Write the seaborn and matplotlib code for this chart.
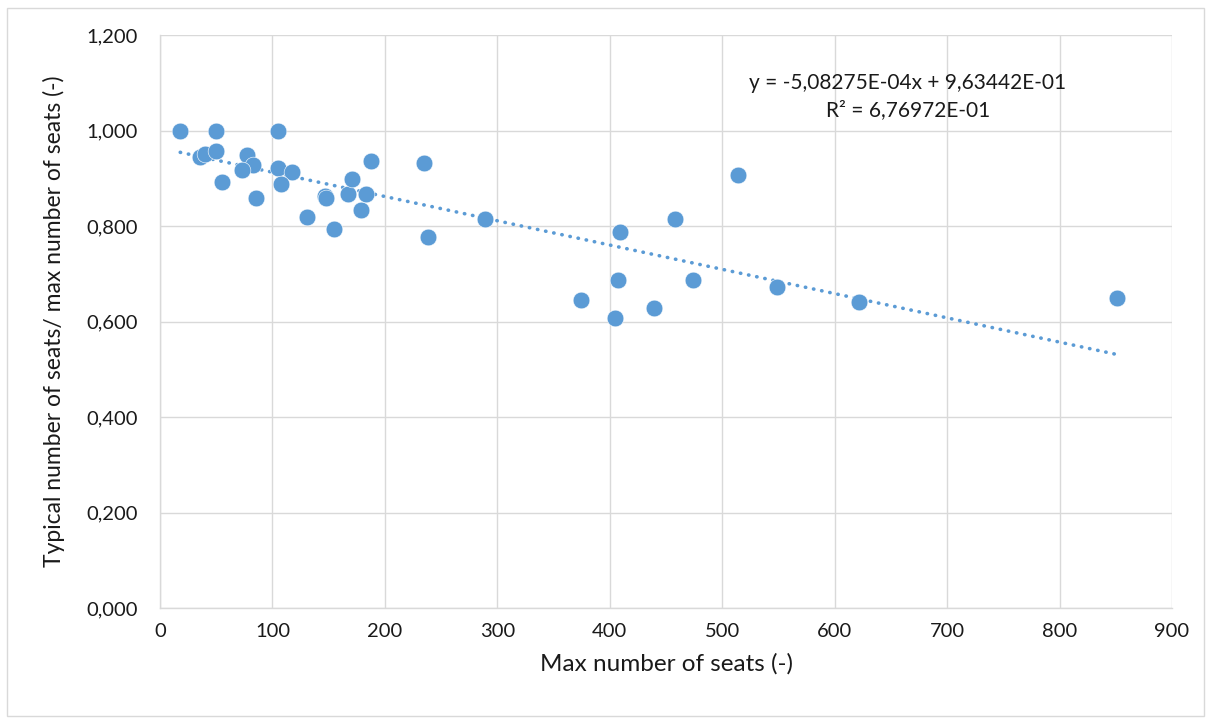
import matplotlib
matplotlib.use("Agg")
import matplotlib.pyplot as plt
import matplotlib.ticker as mticker
from matplotlib.patches import Rectangle
import numpy as np
import pandas as pd
import seaborn as sns

# Data
max_seats = [18, 50, 105, 36, 40, 50, 77, 83, 73, 55, 85, 105, 117, 108,
             131, 147, 148, 155, 167, 171, 179, 183, 188, 235, 238, 289,
             374, 409, 407, 405, 439, 458, 474, 514, 549, 622, 851]
ratio = [1.000, 1.000, 1.000, 0.944, 0.950, 0.958, 0.948, 0.927, 0.918, 0.892,
         0.859, 0.922, 0.914, 0.888, 0.818, 0.862, 0.858, 0.794, 0.868, 0.899,
         0.833, 0.868, 0.936, 0.931, 0.778, 0.815, 0.644, 0.787, 0.686, 0.608,
         0.628, 0.814, 0.686, 0.906, 0.672, 0.640, 0.650]
slope = -5.08275e-04
intercept = 9.63442e-01
r_squared = 6.76972e-01
x_ticks = [0, 100, 200, 300, 400, 500, 600, 700, 800, 900]
y_ticks = [0.0, 0.2, 0.4, 0.6, 0.8, 1.0, 1.2]

df = pd.DataFrame({"x": max_seats, "y": ratio})

sns.set_theme(style="white")
plt.rcParams['font.family'] = ['Lato', 'DejaVu Sans']

blue = "#5B9BD5"
grid_c = "#D9D9D9"
text_c = "#1a1a1a"

fig = plt.figure(figsize=(12.12, 7.24), dpi=100)
fig.patches.append(Rectangle((7/1212, 8/724), 1 - 15/1212, 1 - 16/724,
                             transform=fig.transFigure, fill=False,
                             edgecolor=grid_c, linewidth=1.0))
ax = fig.add_axes([160/1212, 116/724, 1012/1212, 573/724])

# trendline
tx = np.array([min(max_seats), max(max_seats)])
ty = slope * tx + intercept
ax.plot(tx, ty, linestyle=(0, (0.1, 2.2)), dash_capstyle="round",
        color=blue, linewidth=2.6, zorder=3)

sns.scatterplot(data=df, x="x", y="y", ax=ax, s=145, color=blue,
                edgecolor="white", linewidth=0.4, zorder=4, legend=False)

ax.set_xlim(0, 900)
ax.set_ylim(0, 1.2)
ax.set_xticks(x_ticks)
ax.set_yticks(y_ticks)
ax.yaxis.set_major_formatter(mticker.FuncFormatter(lambda v, p: f"{v:.3f}".replace(".", ",")))
ax.xaxis.set_major_formatter(mticker.FuncFormatter(lambda v, p: f"{int(round(v))}"))
ax.grid(True, color=grid_c, linewidth=1.0)
ax.set_axisbelow(True)
for s in ["top", "right"]:
    ax.spines[s].set_visible(False)
for s in ["left", "bottom"]:
    ax.spines[s].set_color(grid_c)
    ax.spines[s].set_linewidth(1.0)
ax.tick_params(axis="both", length=0, labelsize=14.5, colors=text_c)
ax.tick_params(axis="y", pad=16)
ax.tick_params(axis="x", pad=11)
ax.set_xlabel("Max number of seats (-)", fontsize=17.5, color=text_c, labelpad=9)
ax.set_ylabel("Typical number of seats/ max number of seats (-)", fontsize=16.5,
              color=text_c, labelpad=15)

fig.text(908/1212, 1 - 83/724, f"y = {slope:.5E}x + {intercept:.5E}".replace(".", ","),
         ha="center", va="center", fontsize=15, color=text_c)
fig.text(908/1212, 1 - 110/724, f"R² = {r_squared:.5E}".replace(".", ","),
         ha="center", va="center", fontsize=15, color=text_c)

fig.savefig("out.png", dpi=100)
